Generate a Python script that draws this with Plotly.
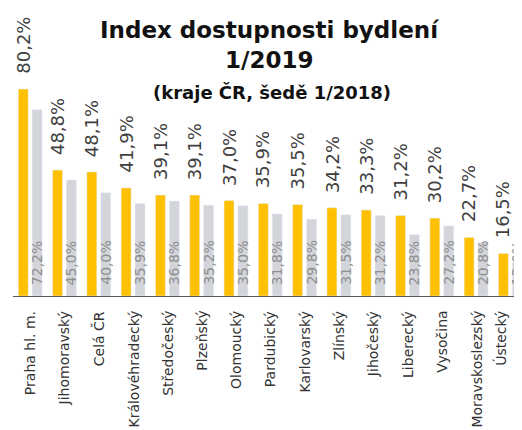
import plotly.graph_objects as go

categories = ["Praha hl. m.", "Jihomoravský", "Celá ČR", "Královéhradecký", "Středočeský",
              "Plzeňský", "Olomoucký", "Pardubický", "Karlovarský", "Zlínský",
              "Jihočeský", "Liberecký", "Vysočina", "Moravskoslezský", "Ústecký"]
values_2019 = [80.2, 48.8, 48.1, 41.9, 39.1, 39.1, 37.0, 35.9, 35.5, 34.2, 33.3, 31.2, 30.2, 22.7, 16.5]
values_2018 = [72.2, 45.0, 40.0, 35.9, 36.8, 35.2, 35.0, 31.8, 29.8, 31.5, 31.2, 23.8, 27.2, 20.8, 13.0]

title_line1 = "Index dostupnosti bydlení"
title_line2 = "1/2019"
subtitle = "(kraje ČR, šedě 1/2018)"

YELLOW = "#FFC000"
GREY = "#D3D5DB"
FONT = "DejaVu Sans"


def fmt(v):
    return f"{v:.1f}".replace(".", ",") + "%"


fig = go.Figure()
fig.add_trace(go.Bar(x=categories, y=values_2019, marker_color=YELLOW, width=0.29, offset=-0.347,
                     hoverinfo="skip", showlegend=False))
fig.add_trace(go.Bar(x=categories, y=values_2018, marker_color=GREY, width=0.29, offset=0.058,
                     hoverinfo="skip", showlegend=False))

annotations = []
for c, v in zip(categories, values_2019):
    annotations.append(dict(x=c, y=v, xref="x", yref="y", text=fmt(v), showarrow=False,
                            textangle=-90, xanchor="center", yanchor="bottom", xshift=-7, yshift=13,
                            font=dict(family=FONT, size=18, color="#404040")))
for c, v in zip(categories, values_2018):
    annotations.append(dict(x=c, y=0, xref="x", yref="y", text=fmt(v), showarrow=False,
                            textangle=-90, xanchor="center", yanchor="bottom", xshift=7, yshift=9,
                            font=dict(family=FONT, size=14, color="#8f8f8f")))
# category labels (last one nudged left so it stays on the canvas, as in the original)
for i, c in enumerate(categories):
    annotations.append(dict(x=c, y=0, xref="x", yref="y", text=c, showarrow=False,
                            textangle=-90, xanchor="center", yanchor="top",
                            xshift=-10 if i == len(categories) - 1 else 0, yshift=-13,
                            font=dict(family=FONT, size=14, color="#333333")))

annotations.append(dict(x=0.503, y=1.031, xref="paper", yref="paper", text=f"<b>{title_line1}</b>",
                        showarrow=False, xanchor="center", yanchor="middle",
                        font=dict(family=FONT, size=23, color="#111111")))
annotations.append(dict(x=0.503, y=0.915, xref="paper", yref="paper", text=f"<b>{title_line2}</b>",
                        showarrow=False, xanchor="center", yanchor="middle",
                        font=dict(family=FONT, size=23, color="#111111")))
annotations.append(dict(x=0.508, y=0.789, xref="paper", yref="paper", text=f"<b>{subtitle}</b>",
                        showarrow=False, xanchor="center", yanchor="middle",
                        font=dict(family=FONT, size=18, color="#111111")))

fig.update_layout(
    width=514, height=422,
    margin=dict(l=5, r=0, t=30, b=134, autoexpand=False),
    paper_bgcolor="white", plot_bgcolor="white",
    barmode="overlay",
    annotations=annotations,
    xaxis=dict(range=[-0.5, 14.34], showline=True, linecolor="#595959", linewidth=1,
               showgrid=False, ticks="", showticklabels=False, automargin=False),
    yaxis=dict(range=[0, 100], visible=False, showgrid=False, automargin=False),
)

fig.write_html("out.html")
